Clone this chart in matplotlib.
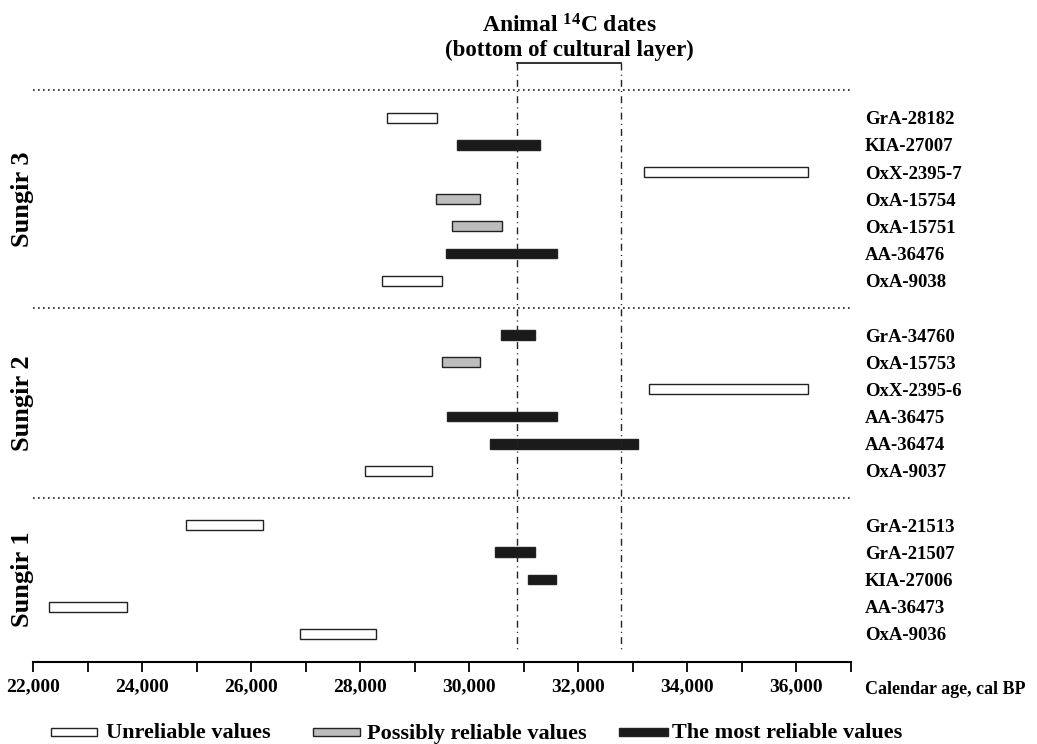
import matplotlib
matplotlib.use("Agg")
import matplotlib.pyplot as plt
from matplotlib.patches import Rectangle
from matplotlib.ticker import MultipleLocator, FuncFormatter

plt.rcParams['font.family'] = ['Liberation Serif', 'DejaVu Serif']
plt.rcParams['font.weight'] = 'bold'
plt.rcParams['mathtext.fontset'] = 'custom'
plt.rcParams['mathtext.rm'] = 'Liberation Serif:bold'
plt.rcParams['mathtext.bf'] = 'Liberation Serif:bold'
plt.rcParams['mathtext.default'] = 'bf'

# data: calibrated ranges (cal BP), kind: u = unreliable, p = possibly reliable, m = most reliable
groups = ["Sungir 3", "Sungir 2", "Sungir 1"]

sungir3_labels = ["GrA-28182", "KIA-27007", "OxX-2395-7", "OxA-15754", "OxA-15751", "AA-36476", "OxA-9038"]
sungir3_start = [28480, 29780, 33200, 29380, 29680, 29570, 28390]
sungir3_end = [29400, 31300, 36220, 30200, 30600, 31600, 29490]
sungir3_kind = ["u", "m", "u", "p", "p", "m", "u"]

sungir2_labels = ["GrA-34760", "OxA-15753", "OxX-2395-6", "AA-36475", "AA-36474", "OxA-9037"]
sungir2_start = [30580, 29490, 33290, 29590, 30380, 28090]
sungir2_end = [31200, 30200, 36220, 31600, 33100, 29310]
sungir2_kind = ["m", "p", "u", "m", "m", "u"]

sungir1_labels = ["GrA-21513", "GrA-21507", "KIA-27006", "AA-36473", "OxA-9036"]
sungir1_start = [24810, 30470, 31080, 22290, 26890]
sungir1_end = [26210, 31210, 31590, 23710, 28290]
sungir1_kind = ["u", "m", "m", "u", "u"]

animal_range = [30880, 32790]

kind_colors = {"u": "white", "p": "#bdbdbd", "m": "#1a1a1a"}
legend_names = {"u": "Unreliable values", "p": "Possibly reliable values", "m": "The most reliable values"}

W, H = 1037, 744
fig = plt.figure(figsize=(W / 100, H / 100), dpi=100)
# axes placed in pixel terms: x 33..851, y 63..662
ax = fig.add_axes([33.3 / W, 1 - 662.3 / H, (851 - 33.3) / W, (662.3 - 63.3) / H])
ax.set_xlim(22000, 37000)
ax.set_ylim(20.05, -2.0)

all_groups = [
    (sungir3_labels, sungir3_start, sungir3_end, sungir3_kind),
    (sungir2_labels, sungir2_start, sungir2_end, sungir2_kind),
    (sungir1_labels, sungir1_start, sungir1_end, sungir1_kind),
]

row = 0
separators = [-1]
for name, (labels, starts, ends, kinds) in zip(groups, all_groups):
    rows = list(range(row, row + len(labels)))
    for r, lab, s, e, k in zip(rows, labels, starts, ends, kinds):
        ax.barh(r, e - s, left=s, height=0.36, color=kind_colors[k],
                edgecolor="#222222", linewidth=1.0)
        ax.text(37260, r + 0.08, lab, ha="left", va="center", fontsize=13.5,
                fontweight="bold", clip_on=False)
    ax.text(-0.0126, (rows[0] + rows[-1]) / 2, name, rotation=90, ha="center",
            va="center", fontsize=19, fontweight="bold",
            transform=ax.get_yaxis_transform(), clip_on=False)
    row += len(labels)
    separators.append(row)
    row += 1
separators = separators[:-1]

for sy in separators:
    ax.plot([22000, 37000], [sy, sy], color="#222222", lw=1.2,
            linestyle=(0, (1, 2)), clip_on=False)

# animal dates bracket
for xv in animal_range:
    ax.plot([xv, xv], [-2.0, 19.67], color="#222222", lw=1.0,
            linestyle=(0, (5, 3, 0.8, 3)), clip_on=False)
ax.plot(animal_range, [-2.0, -2.0], color="#222222", lw=1.3, clip_on=False)
mid = sum(animal_range) / 2
ax.text(mid, -3.39, "Animal $^{14}$C dates", ha="center", va="center",
        fontsize=17, fontweight="bold", clip_on=False)
ax.text(mid, -2.47, "(bottom of cultural layer)", ha="center", va="center",
        fontsize=16.5, fontweight="bold", clip_on=False)

# axis
for side in ["left", "right", "top"]:
    ax.spines[side].set_visible(False)
ax.spines["bottom"].set_linewidth(1.5)
ax.yaxis.set_visible(False)
ax.xaxis.set_major_locator(MultipleLocator(2000))
ax.xaxis.set_minor_locator(MultipleLocator(1000))
ax.xaxis.set_major_formatter(FuncFormatter(lambda v, p: "{:,}".format(int(v)) if v < 37000 else ""))
ax.tick_params(axis="x", which="both", direction="out", length=7.5, width=1.3,
               labelsize=14, pad=4)
for lab in ax.get_xticklabels():
    lab.set_fontweight("bold")

fig.text(865 / W, 1 - 690 / H, "Calendar age, cal BP", ha="left", va="center",
         fontsize=13, fontweight="bold")

# legend drawn by hand
legend_boxes = {"u": (51, 97, 106), "p": (313, 360, 367), "m": (619, 668, 672)}
for k in ["u", "p", "m"]:
    x0, x1, xt = legend_boxes[k]
    fig.add_artist(Rectangle((x0 / W, 1 - 736 / H), (x1 - x0) / W, 8 / H,
                             transform=fig.transFigure, facecolor=kind_colors[k],
                             edgecolor="#222222", linewidth=1.0))
    fig.text(xt / W, 1 - 738.5 / H, legend_names[k], ha="left", va="baseline",
             fontsize=16, fontweight="bold")

fig.savefig("out.png", dpi=100)
